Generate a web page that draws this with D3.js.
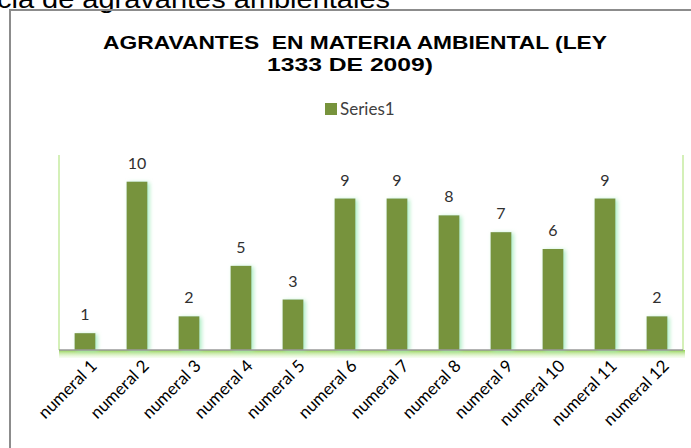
<!DOCTYPE html>
<html>
<head>
<meta charset="utf-8">
<script src="https://cdn.jsdelivr.net/npm/d3@7"></script>
<style>
  body { margin: 0; background: #fff; }
  svg { display: block; }
</style>
</head>
<body>
<div id="barChart"></div>
<script>
// chart data
var categories = ["numeral 1", "numeral 2", "numeral 3", "numeral 4", "numeral 5", "numeral 6",
                  "numeral 7", "numeral 8", "numeral 9", "numeral 10", "numeral 11", "numeral 12"];
var values = [1, 10, 2, 5, 3, 9, 9, 8, 7, 6, 9, 2];
var seriesName = "Series1";
var titleLines = ["AGRAVANTES  EN MATERIA AMBIENTAL (LEY", "1333 DE 2009)"];
var captionText = "cia de agravantes ambientales";

var width = 691, height = 448;
var plot = {left: 59, right: 683, top: 148, bottom: 350};

var svg = d3.select("#barChart")
  .append("svg")
  .attr("width", width)
  .attr("height", height);

var defs = svg.append("defs");
var glow = defs.append("filter").attr("id", "glow")
  .attr("x", "-50%").attr("y", "-20%").attr("width", "200%").attr("height", "140%");
glow.append("feFlood").attr("flood-color", "#a8ecc0").attr("result", "c");
glow.append("feComposite").attr("in", "c").attr("in2", "SourceAlpha").attr("operator", "in").attr("result", "cs");
glow.append("feGaussianBlur").attr("in", "cs").attr("stdDeviation", 2.2).attr("result", "b");
glow.append("feOffset").attr("in", "b").attr("dx", 1.5).attr("dy", 1).attr("result", "o");
var merge = glow.append("feMerge");
merge.append("feMergeNode").attr("in", "o");
merge.append("feMergeNode").attr("in", "SourceGraphic");

var shadowGrad = defs.append("linearGradient").attr("id", "baseGlow")
  .attr("x1", 0).attr("y1", 0).attr("x2", 0).attr("y2", 1);
shadowGrad.append("stop").attr("offset", "0%").attr("stop-color", "#8fd14f");
shadowGrad.append("stop").attr("offset", "100%").attr("stop-color", "#e6f7d6").attr("stop-opacity", 0.3);

// caption text above chart (cut off at top, as in the source image)
svg.append("text")
  .attr("x", -3).attr("y", 8)
  .attr("textLength", 393)
  .attr("lengthAdjust", "spacingAndGlyphs")
  .style("font-family", "Liberation Sans, Arial, sans-serif")
  .style("font-size", "25px")
  .style("fill", "#000")
  .text(captionText);

// chart frame
svg.append("rect")
  .attr("x", 10).attr("y", 10)
  .attr("width", 700).attr("height", 460)
  .attr("fill", "none")
  .attr("stroke", "#8c8c8c")
  .attr("stroke-width", 2);

// title
var titleWidths = [504, 166];
svg.append("g").selectAll("text")
  .data(titleLines)
  .enter().append("text")
  .attr("x", function(d, i) { return i === 0 ? 355 : 350; })
  .attr("y", function(d, i) { return 49 + i * 22; })
  .attr("text-anchor", "middle")
  .attr("textLength", function(d, i) { return titleWidths[i]; })
  .attr("lengthAdjust", "spacingAndGlyphs")
  .style("white-space", "pre")
  .style("font-family", "Liberation Sans, Arial, sans-serif")
  .style("font-weight", "bold")
  .style("font-size", "19px")
  .style("fill", "#000")
  .text(function(d) { return d; });

// legend
var legend = svg.append("g").attr("transform", "translate(325,103)");
legend.append("rect").attr("width", 12).attr("height", 12).attr("fill", "#77933c");
legend.append("text")
  .attr("x", 15).attr("y", 11.5)
  .style("font-family", "Lato, 'Open Sans', sans-serif")
  .style("font-size", "17px")
  .style("fill", "#404040")
  .text(seriesName);

var xScale = d3.scaleBand().domain(categories).range([plot.left, plot.right]).paddingInner(0.6).paddingOuter(0.3);
var yScale = d3.scaleLinear().domain([0, 12]).range([plot.bottom, plot.top]);

// plot side lines (light green)
svg.append("line")
  .attr("x1", plot.left).attr("x2", plot.left)
  .attr("y1", 155).attr("y2", plot.bottom)
  .attr("stroke", "#d4f0b8").attr("stroke-width", 2);
svg.append("line")
  .attr("x1", plot.right).attr("x2", plot.right)
  .attr("y1", 155).attr("y2", plot.bottom)
  .attr("stroke", "#d4f0b8").attr("stroke-width", 2);

// base glow
svg.append("rect")
  .attr("x", plot.left).attr("y", plot.bottom)
  .attr("width", plot.right - plot.left + 2).attr("height", 8)
  .attr("fill", "url(#baseGlow)");

// bars
svg.append("g").selectAll(".bar")
  .data(values)
  .enter().append("rect")
  .attr("class", "bar")
  .attr("x", function(d, i) { return xScale(categories[i]); })
  .attr("y", function(d) { return yScale(d); })
  .attr("width", xScale.bandwidth())
  .attr("height", function(d) { return plot.bottom - yScale(d); })
  .attr("fill", "#77933c")
  .attr("filter", "url(#glow)");

// baseline
svg.append("line")
  .attr("x1", plot.left).attr("x2", plot.right)
  .attr("y1", plot.bottom).attr("y2", plot.bottom)
  .attr("stroke", "#9a9a9a").attr("stroke-width", 1.5);

// value labels
svg.append("g").selectAll("text")
  .data(values)
  .enter().append("text")
  .attr("x", function(d, i) { return xScale(categories[i]) + xScale.bandwidth() / 2; })
  .attr("y", function(d) { return yScale(d) - 13; })
  .attr("text-anchor", "middle")
  .style("font-family", "Lato, 'Open Sans', sans-serif")
  .style("font-size", "16px")
  .style("fill", "#303030")
  .text(function(d) { return d; });

// x axis labels
var xAxis = svg.append("g")
  .attr("transform", "translate(0," + plot.bottom + ")")
  .call(d3.axisBottom(xScale).tickSize(0).tickPadding(0));
xAxis.select(".domain").remove();
xAxis.selectAll("text")
  .attr("x", 0).attr("y", 0).attr("dy", 0)
  .attr("text-anchor", "end")
  .attr("transform", "translate(13,17) rotate(-45)")
  .style("font-family", "Lato, 'Open Sans', sans-serif")
  .style("font-size", "17px")
  .style("fill", "#000");
</script>
</body>
</html>
